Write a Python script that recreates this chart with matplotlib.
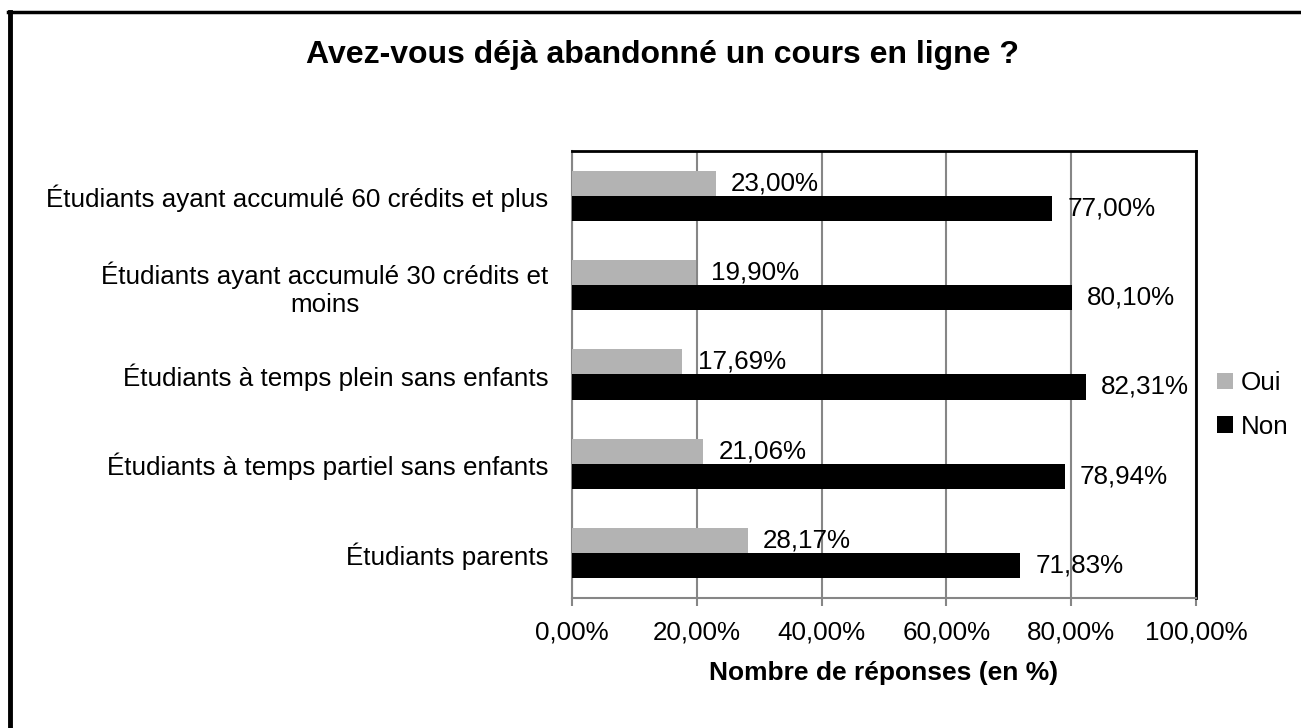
import numpy as np
import matplotlib.pyplot as plt
from matplotlib.lines import Line2D

categories = ['Étudiants parents',
              'Étudiants à temps partiel sans enfants',
              'Étudiants à temps plein sans enfants',
              'Étudiants ayant accumulé 30 crédits et\nmoins',
              'Étudiants ayant accumulé 60 crédits et plus']
oui = [28.17, 21.06, 17.69, 19.90, 23.00]
non = [71.83, 78.94, 82.31, 80.10, 77.00]
xticks = [0, 20, 40, 60, 80, 100]

plt.rcParams['font.family'] = ['Liberation Sans', 'DejaVu Sans']
fs = 18.7

fig = plt.figure(figsize=(13.01, 7.28), dpi=100)
ax = fig.add_axes([0.4397, 0.1786, 0.4796, 0.614])

y = np.arange(len(categories))
h = 0.28
b1 = ax.barh(y + h / 2, oui, height=h, color='#b3b3b3', label='Oui', zorder=3)
b2 = ax.barh(y - h / 2, non, height=h, color='#000000', label='Non', zorder=3)

def fmt(v):
    return f'{v:.2f}'.replace('.', ',') + '%'

for bars, vals in [(b1, oui), (b2, non)]:
    for bar, v in zip(bars, vals):
        ax.annotate(fmt(v), (bar.get_width(), bar.get_y() + bar.get_height() / 2),
                    xytext=(11, 0), textcoords='offset points',
                    ha='left', va='center', fontsize=fs, zorder=4)

ax.set_xlim(0, 100)
ax.set_ylim(-0.5, len(categories) - 0.5)
ax.set_xticks(xticks)
ax.set_xticklabels([fmt(v) for v in xticks], fontsize=fs)
ax.set_yticks(y)
ax.set_yticklabels(categories, fontsize=fs)
for lab in ax.get_yticklabels():
    lab.set_multialignment('center')
ax.tick_params(axis='y', length=0, pad=17)
ax.tick_params(axis='x', length=6, width=1.5, color='#868686', pad=10)
ax.grid(axis='x', color='#868686', linewidth=1.5, zorder=0)
ax.spines['left'].set_color('#868686')
ax.spines['bottom'].set_color('#868686')
ax.spines['left'].set_linewidth(1.5)
ax.spines['bottom'].set_linewidth(1.5)
ax.spines['top'].set_linewidth(2)
ax.spines['right'].set_linewidth(2)
ax.set_xlabel('Nombre de réponses (en %)', fontsize=19, fontweight='bold', labelpad=12)

fig.text(0.509, 0.925, 'Avez-vous déjà abandonné un cours en ligne ?',
         ha='center', va='center', fontsize=23, fontweight='bold')

fig.legend(handles=[b1, b2], labels=['Oui', 'Non'], loc='center left',
           bbox_to_anchor=(0.9175, 0.444), frameon=False, fontsize=fs,
           handlelength=0.6, handleheight=0.6, handletextpad=0.3, labelspacing=0.75)

# outer frame (left and top edges only are visible)
fig.add_artist(Line2D([0.0077, 0.0077], [0, 0.984], color='black', linewidth=3.5, transform=fig.transFigure))
fig.add_artist(Line2D([0.0065, 1], [0.984, 0.984], color='black', linewidth=2.5, transform=fig.transFigure))

fig.savefig('out.png', dpi=100)
